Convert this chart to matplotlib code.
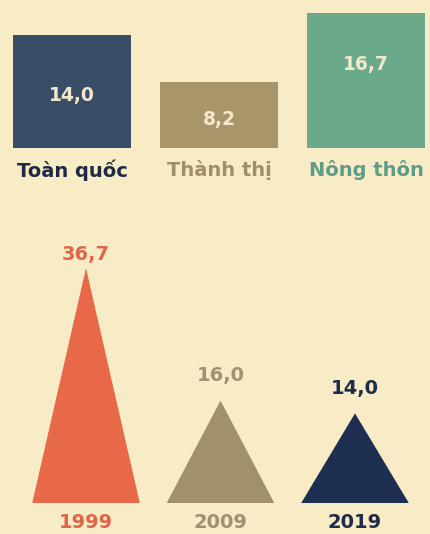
import numpy as np
import matplotlib.pyplot as plt
from matplotlib.patches import Polygon

# Khu vực
khu_vuc = ['Toàn quốc', 'Thành thị', 'Nông thôn']
ty_le_khu_vuc = [14.0, 8.2, 16.7]

# Theo năm
nam = ['1999', '2009', '2019']
ty_le_nam = [36.7, 16.0, 14.0]

bg = '#f7ecc6'
mau_cot = ['#3a4d66', '#a8956a', '#6aa98a']
mau_nhan_cot = ['#1e2a44', '#a08f66', '#5e9c88']
mau_tam_giac = ['#e8694a', '#a1916a', '#1d2e50']
mau_nhan_nam = ['#e0664a', '#a0926f', '#1e2d4a']

plt.rcParams['font.family'] = ['DejaVu Sans']

W, H = 430, 534
fig = plt.figure(figsize=(W / 100, H / 100), dpi=100)
fig.patch.set_facecolor(bg)

def fy(px):
    return (H - px) / H

# --- cột theo khu vực ---
ax1 = fig.add_axes([0, fy(148), 1, (148 - 8) / H])
ax1.set_facecolor('none')
x1 = np.arange(len(khu_vuc))
ax1.bar(x1, ty_le_khu_vuc, width=0.8, color=mau_cot)
ax1.set_xlim(-72 / 147, (W - 72) / 147)
ax1.set_ylim(0, 140 / 8.08)
ax1.axis('off')

vi_tri_so = [6.5, 3.5, 10.3]
for i in range(len(khu_vuc)):
    ax1.text(x1[i], vi_tri_so[i], f'{ty_le_khu_vuc[i]:.1f}'.replace('.', ','),
             ha='center', va='center', fontsize=13.5, fontweight='bold', color='#f2e8cc')
    ax1.text(x1[i], -22 / 8.08, khu_vuc[i], ha='center', va='center',
             fontsize=14, fontweight='bold', color=mau_nhan_cot[i], clip_on=False)

# --- tam giác theo năm ---
ax2 = fig.add_axes([0, fy(503), 1, (503 - 240) / H])
ax2.set_facecolor('none')
x2 = np.arange(len(nam))
nua_rong = 0.4
for i in range(len(nam)):
    tri = Polygon([[x2[i] - nua_rong, 0], [x2[i] + nua_rong, 0], [x2[i], ty_le_nam[i]]],
                  closed=True, facecolor=mau_tam_giac[i], edgecolor='none')
    ax2.add_patch(tri)
ax2.set_xlim(-86 / 134.5, (W - 86) / 134.5)
ax2.set_ylim(0, 263 / 6.4)
ax2.axis('off')

khoang_cach = [2.2, 3.9, 3.9]
for i in range(len(nam)):
    ax2.text(x2[i], ty_le_nam[i] + khoang_cach[i], f'{ty_le_nam[i]:.1f}'.replace('.', ','),
             ha='center', va='center', fontsize=14, fontweight='bold', color=mau_nhan_nam[i])
    ax2.text(x2[i], -19 / 6.4, nam[i], ha='center', va='center',
             fontsize=14, fontweight='bold', color=mau_nhan_nam[i], clip_on=False)

fig.savefig('out.png', dpi=100, facecolor=bg)
